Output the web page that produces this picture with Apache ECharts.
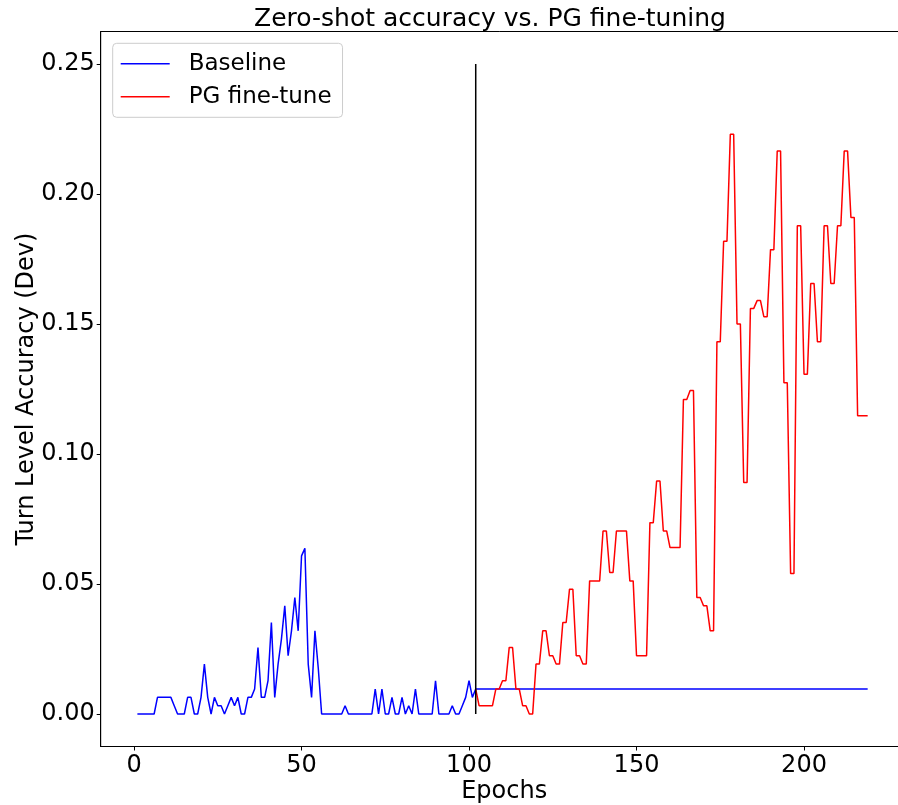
<html>
  <head>
    <meta charset="utf-8" />
    <script src="https://cdn.jsdelivr.net/npm/echarts@6.0.0/dist/echarts.min.js"></script>
    <style>
      body {
        margin: 0;
        background: #fff;
      }

      #main {
        width: 898px;
        height: 805px;
      }
    </style>
  </head>
  <body>
    <div id="main"></div>
    <script>
      // Baseline accuracy per epoch, starting at epoch 1 (up to the fine-tune start)
      const baselineStart = 1;
      const baselineAcc = [
        0, 0, 0, 0, 0, 0, 0.0064, 0.0064, 0.0064, 0.0064,
        0.0064, 0.0032, 0, 0, 0, 0.0064, 0.0064, 0, 0, 0.0064,
        0.0192, 0.0064, 0, 0.0064, 0.0032, 0.0032, 0, 0.0032, 0.0064, 0.0032,
        0.0064, 0, 0, 0.0064, 0.0064, 0.0096, 0.0256, 0.0064, 0.0064, 0.0128,
        0.0352, 0.0064, 0.0192, 0.0288, 0.0416, 0.0224, 0.032, 0.0448, 0.032, 0.0608,
        0.0637, 0.0192, 0.0064, 0.032, 0.0176, 0, 0, 0, 0, 0,
        0, 0, 0.0032, 0, 0, 0, 0, 0, 0, 0,
        0, 0.0096, 0, 0.0096, 0, 0, 0.0064, 0, 0, 0.0064,
        0, 0.0032, 0, 0.0096, 0, 0, 0, 0, 0, 0.0128,
        0, 0, 0, 0, 0.0032, 0, 0, 0.0032, 0.0064, 0.0128,
        0.0064, 0.0096
      ];
      // After fine-tuning starts the baseline stays flat until the last epoch
      const lastEpoch = 219;
      const baselineFinal = 0.0096;

      // PG fine-tune accuracy per epoch, starting at epoch 102
      const finetuneStart = 102;
      const pgAcc = [
        0.0096, 0.0032, 0.0032, 0.0032, 0.0032, 0.0032, 0.0096, 0.0096, 0.0128, 0.0128,
        0.0256, 0.0256, 0.0096, 0.0096, 0.0032, 0.0032, 0, 0, 0.0192, 0.0192,
        0.032, 0.032, 0.0224, 0.0224, 0.0192, 0.0192, 0.0352, 0.0352, 0.048, 0.048,
        0.0224, 0.0224, 0.0192, 0.0192, 0.0512, 0.0512, 0.0512, 0.0512, 0.0704, 0.0704,
        0.0544, 0.0544, 0.0704, 0.0704, 0.0704, 0.0704, 0.0512, 0.0512, 0.0224, 0.0224,
        0.0224, 0.0224, 0.0736, 0.0736, 0.0896, 0.0896, 0.0704, 0.0704, 0.064, 0.064,
        0.064, 0.064, 0.121, 0.121, 0.1244, 0.1244, 0.0448, 0.0448, 0.0416, 0.0416,
        0.032, 0.032, 0.1432, 0.1432, 0.1818, 0.1818, 0.223, 0.223, 0.15, 0.15,
        0.089, 0.089, 0.156, 0.156, 0.159, 0.159, 0.1528, 0.1528, 0.1786, 0.1786,
        0.2165, 0.2165, 0.1274, 0.1274, 0.054, 0.054, 0.1878, 0.1878, 0.1307, 0.1307,
        0.1656, 0.1656, 0.1432, 0.1432, 0.1878, 0.1878, 0.1656, 0.1656, 0.1878, 0.1878,
        0.2165, 0.2165, 0.191, 0.191, 0.1147, 0.1147, 0.1147, 0.1147
      ];

      // vertical marker at the start of fine-tuning
      const markerRange = [0, 0.25];

      const xTicks = [0, 50, 100, 150, 200];
      const yTicks = [0, 0.05, 0.1, 0.15, 0.2, 0.25];

      const font = 'DejaVu Sans';

      const baselineData = baselineAcc.map((v, i) => [baselineStart + i, v]);
      baselineData.push([lastEpoch, baselineFinal]);
      const pgData = pgAcc.map((v, i) => [finetuneStart + i, v]);
      const markerData = markerRange.map((v) => [finetuneStart, v]);

      const chart = echarts.init(document.getElementById('main'));

      chart.setOption({
        animation: false,
        title: {
          text: 'Zero-shot accuracy vs. PG fine-tuning',
          left: 485,
          top: 2,
          textAlign: 'center',
          textStyle: {
            fontFamily: font,
            fontSize: 25,
            fontWeight: 'normal',
            color: '#000',
          },
        },
        grid: {
          left: 100.7,
          top: 31.5,
          width: 807,
          height: 715,
          outerBoundsMode: 'none',
          show: true,
          borderColor: '#000',
          borderWidth: 1,
          backgroundColor: 'transparent',
        },
        legend: {
          orient: 'vertical',
          left: 112.7,
          top: 43.3,
          padding: [9, 11, 9, 8],
          itemWidth: 49,
          itemHeight: 1.5,
          itemGap: 10,
          icon: 'rect',
          backgroundColor: 'rgba(255,255,255,0.8)',
          borderColor: '#cccccc',
          borderWidth: 1,
          borderRadius: 4,
          data: ['Baseline', 'PG fine-tune'],
          textStyle: {
            fontFamily: font,
            fontSize: 23,
            lineHeight: 20,
            color: '#000',
            padding: [0, 0, 0, 14],
          },
        },
        xAxis: {
          type: 'value',
          min: -9.95,
          max: 230.95,
          name: 'Epochs',
          nameLocation: 'middle',
          nameGap: 33,
          nameMoveOverlap: false,
          nameTextStyle: {
            fontFamily: font,
            fontSize: 24,
            color: '#000',
          },
          splitLine: { show: false },
          axisLine: { show: true, onZero: false, lineStyle: { color: '#000', width: 1 } },
          axisTick: {
            show: true,
            length: 4,
            customValues: xTicks,
            lineStyle: { color: '#000' },
          },
          axisLabel: {
            customValues: xTicks,
            margin: 7,
            fontFamily: font,
            fontSize: 24,
            color: '#000',
          },
        },
        yAxis: {
          type: 'value',
          min: -0.0125,
          max: 0.2625,
          name: 'Turn Level Accuracy (Dev)',
          nameLocation: 'middle',
          nameGap: 62,
          nameMoveOverlap: false,
          nameTextStyle: {
            fontFamily: font,
            fontSize: 24,
            color: '#000',
          },
          splitLine: { show: false },
          axisLine: { show: true, onZero: false, lineStyle: { color: '#000', width: 1 } },
          axisTick: {
            show: true,
            length: 4,
            customValues: yTicks,
            lineStyle: { color: '#000' },
          },
          axisLabel: {
            customValues: yTicks,
            margin: 6,
            fontFamily: font,
            fontSize: 24,
            color: '#000',
            formatter: (v) => v.toFixed(2),
          },
        },
        series: [
          {
            name: 'Baseline',
            type: 'line',
            data: baselineData,
            symbol: 'none',
            lineStyle: { color: '#0000ff', width: 1.5 },
            itemStyle: { color: '#0000ff' },
          },
          {
            name: 'PG fine-tune',
            type: 'line',
            data: pgData,
            symbol: 'none',
            lineStyle: { color: '#ff0000', width: 1.5 },
            itemStyle: { color: '#ff0000' },
          },
          {
            name: 'marker',
            type: 'line',
            data: markerData,
            symbol: 'none',
            lineStyle: { color: '#000', width: 1.5 },
            itemStyle: { color: '#000' },
          },
        ],
      });
    </script>
  </body>
</html>
